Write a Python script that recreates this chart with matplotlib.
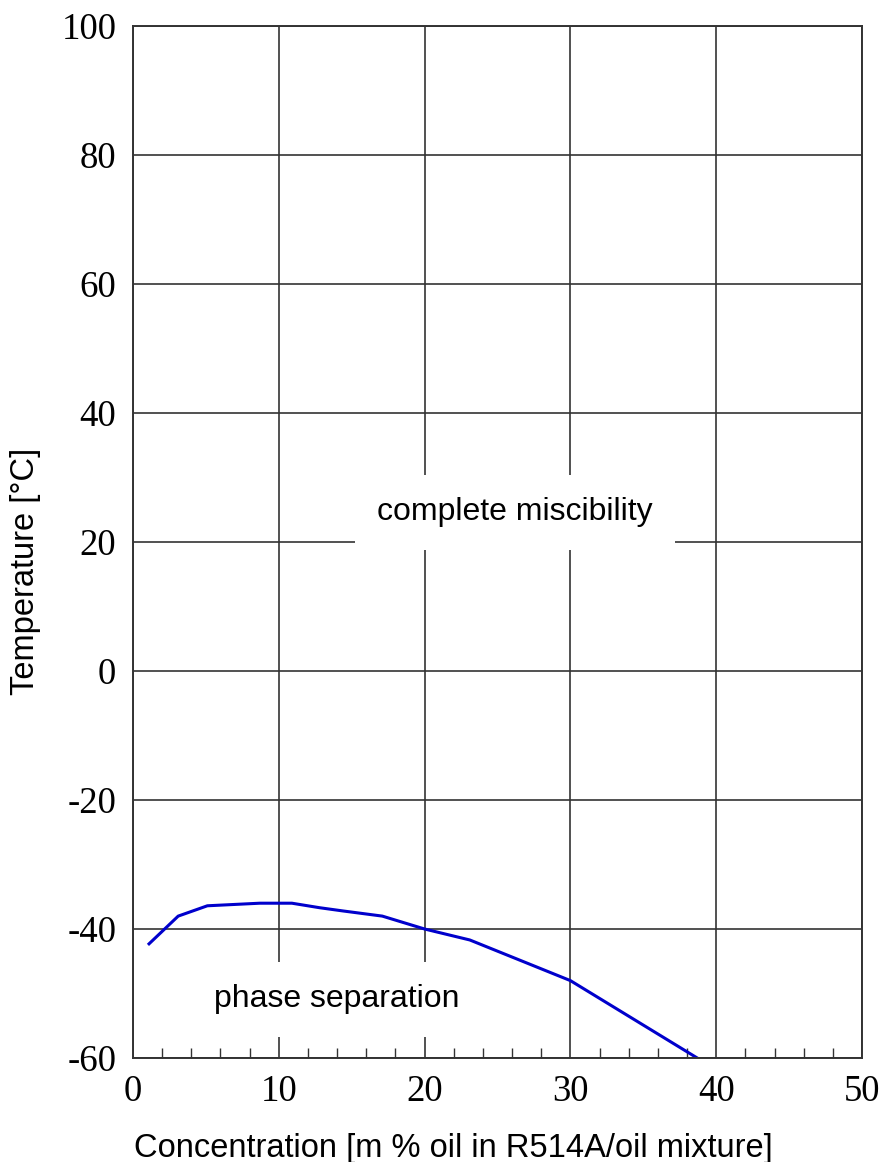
import numpy as np
import matplotlib.pyplot as plt
from matplotlib.ticker import MultipleLocator

# miscibility limit
conc = [1.1, 3.1, 5.1, 6.9, 8.7, 10.9, 12.8, 14.4, 17.1, 20.0, 23.1, 30.0, 38.7]
temp = [-42.3, -38.0, -36.4, -36.2, -36.0, -36.0, -36.7, -37.2, -38.0, -40.0, -41.7, -48.0, -60.0]

x_ticks = [0, 10, 20, 30, 40, 50]
y_ticks = [-60, -40, -20, 0, 20, 40, 60, 80, 100]

grid_col = "#333333"
serif = "Liberation Serif"
sans = "Liberation Sans"
plt.rcParams["axes.unicode_minus"] = False

fig = plt.figure(figsize=(8.82, 11.62), dpi=100)
ax = fig.add_axes([0.1508, 0.0895, 0.8265, 0.8881])

ax.plot(conc, temp, color="#0000cc", lw=2.2, zorder=2)

ax.set_xlim(0, 50)
ax.set_ylim(-60, 100)
ax.set_xticks(x_ticks)
ax.set_yticks(y_ticks)
ax.xaxis.set_minor_locator(MultipleLocator(2))
ax.tick_params(axis="both", which="major", length=0, pad=12, labelsize=26.5)
ax.tick_params(axis="x", which="minor", direction="in", length=7.5,
               width=1.0, color=grid_col)
for lbl in ax.get_xticklabels() + ax.get_yticklabels():
    lbl.set_fontfamily(serif)

ax.set_axisbelow(True)
ax.grid(True, which="major", color=grid_col, lw=1.2)
for sp in ax.spines.values():
    sp.set_color(grid_col)
    sp.set_linewidth(1.4)

box = dict(boxstyle="square,pad=0.7", fc="white", ec="none")
ax.text(26.2, 24.6, "complete miscibility", ha="center", va="center",
        fontsize=23, family=sans, bbox=box, zorder=3)
ax.text(14.0, -50.9, "phase separation", ha="center", va="center",
        fontsize=23, family=sans, bbox=box, zorder=3)

ax.set_xlabel("Concentration [m % oil in R514A/oil mixture]", fontsize=23.5,
              family=sans, labelpad=17)
ax.set_ylabel("Temperature [°C]", fontsize=23.5, family=sans, labelpad=15)
# labels sit a bit off-centre in the original
ax.xaxis.label.set_x(0.44)
ax.yaxis.label.set_y(0.472)

fig.savefig("out.png", dpi=100)
